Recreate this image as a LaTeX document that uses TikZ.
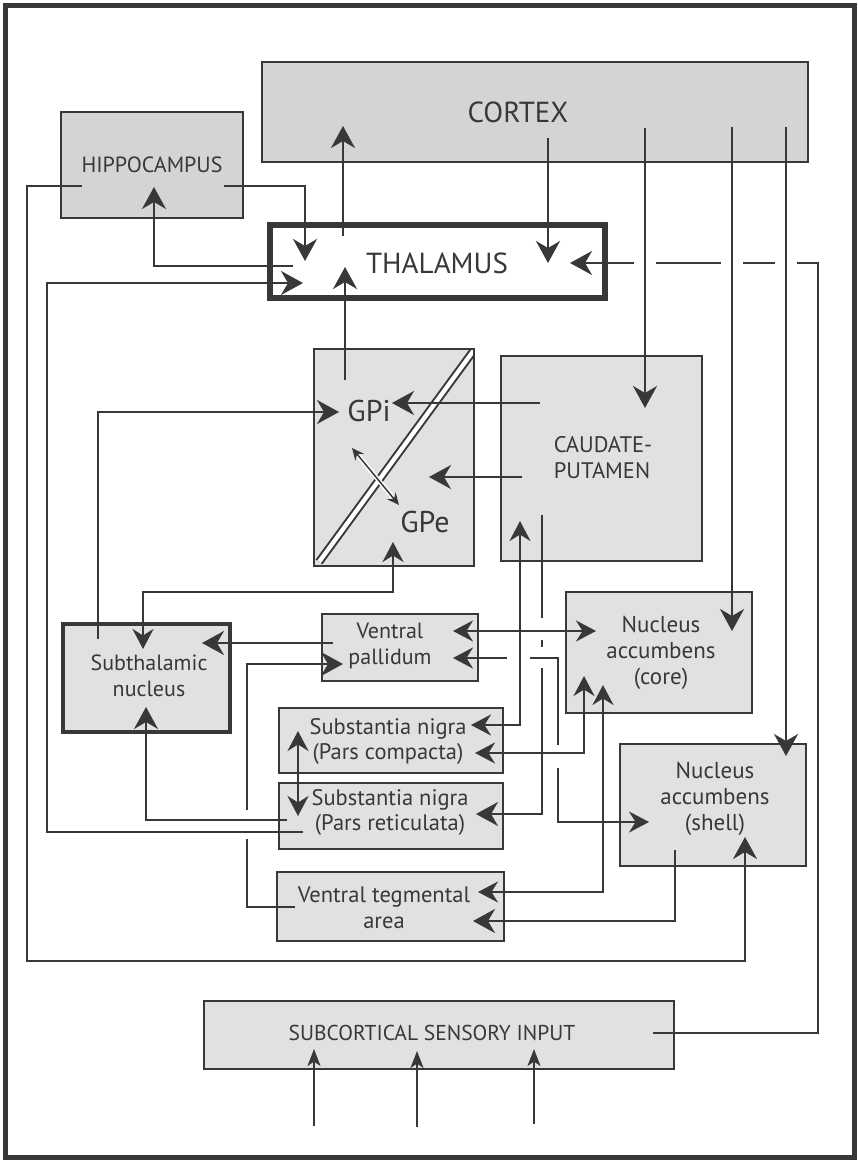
\documentclass[tikz,border=0pt]{standalone}
\usepackage{fontspec}
\setmainfont{PT Sans}
\usetikzlibrary{arrows.meta,calc}
\definecolor{lc}{HTML}{383838}
\definecolor{fillA}{HTML}{D4D4D4}
\definecolor{fillB}{HTML}{E1E1E1}
\tikzset{
  box/.style={draw=lc, line width=2.5pt, fill=fillB, inner sep=0pt, outer sep=0pt, anchor=north west},
  boxD/.style={box, fill=fillA},
  conn/.style={draw=lc, line width=2.3pt},
  arr/.style={conn, -{Stealth[length=22pt,width=24pt,inset=7pt]}},
  darr/.style={conn, {Stealth[length=20pt,width=21pt,inset=6.5pt]}-{Stealth[length=20pt,width=21pt,inset=6.5pt]}},
  sarr/.style={conn, -{Stealth[length=17pt,width=13pt,inset=4.5pt]}},
  gapw/.style={draw=white, line width=6pt},
  lbl/.style={text=lc, align=center, inner sep=0pt},
  big/.style={font=\fontsize{29}{33}\selectfont},
  caps/.style={font=\fontsize{22}{26}\selectfont},
  mixed/.style={font=\fontsize{22}{26}\selectfont},
}
\begin{document}
\begin{tikzpicture}[x=1pt,y=-1pt]
\useasboundingbox (0,0) rectangle (858,1161);
\draw[lc, line width=5pt] (5.5,5.5) rectangle (854.5,1157.5);

% boxes
\node[boxD, minimum width=546pt, minimum height=100pt] (cortex) at (262,62) {};
\node[boxD, minimum width=182pt, minimum height=106pt] (hippo) at (61,112) {};
\node[box, fill=white, line width=6pt, minimum width=335pt, minimum height=73pt] (thal) at (270,225) {};
\node[box, minimum width=160pt, minimum height=217pt] (gp) at (314,349) {};
\node[box, minimum width=201pt, minimum height=205pt] (caud) at (501,356) {};
\node[box, line width=4pt, minimum width=167pt, minimum height=108pt] (stn) at (63,624) {};
\node[box, minimum width=156pt, minimum height=67pt] (vp) at (322,614) {};
\node[box, minimum width=224pt, minimum height=65pt] (snc) at (279,708) {};
\node[box, minimum width=224pt, minimum height=66pt] (snr) at (279,783) {};
\node[box, minimum width=227pt, minimum height=69pt] (vta) at (277,872) {};
\node[box, minimum width=186pt, minimum height=121pt] (core) at (566,592) {};
\node[box, minimum width=186pt, minimum height=122pt] (shell) at (620,744) {};
\node[box, minimum width=470pt, minimum height=68pt] (sub) at (204,1001) {};

% GP divider (double line, clipped to the GP box)
\begin{scope}
  \clip (gp.south west) rectangle (gp.north east);
  \draw[lc, line width=2pt, double=white, double distance=4.3pt] ($(gp.south west)+(5,-4)$) -- ($(gp.north east)+(0,1)$) -- +(9,-12);
\end{scope}
\draw[lc, line width=2.5pt] (gp.south west) rectangle (gp.north east);

% texts
\node[lbl, big] (ctxT) at (518,112) {CORTEX};
\node[lbl, caps] (hipT) at (152,165) {HIPPOCAMPUS};
\node[lbl, big] (thalT) at (437,263) {THALAMUS};
\node[lbl, font=\fontsize{30}{34}\selectfont] (gpiT) at (369,411) {GPi};
\node[lbl, font=\fontsize{30}{34}\selectfont] (gpeT) at (425,522) {GPe};
\node[lbl, align=left, font=\fontsize{22.5}{26}\selectfont] (caudT) at (603,458) {CAUDATE-\\PUTAMEN};
\node[lbl, mixed] (stnT) at (149,676) {Subthalamic\\nucleus};
\node[lbl, mixed] (vpT) at (390,646) {Ventral\\pallidum};
\node[lbl, font=\fontsize{22.5}{25}\selectfont] (sncT) at (388,741) {Substantia nigra\\(Pars compacta)};
\node[lbl, font=\fontsize{22.5}{25}\selectfont] (snrT) at (390,812) {Substantia nigra\\(Pars reticulata)};
\node[lbl, font=\fontsize{22.5}{26}\selectfont] (vtaT) at (384,908) {Ventral tegmental\\area};
\node[lbl, font=\fontsize{23}{26}\selectfont] (coreT) at (661,653) {Nucleus\\accumbens\\(core)};
\node[lbl, font=\fontsize{23}{26}\selectfont] (shellT) at (715,799) {Nucleus\\accumbens\\(shell)};
\node[lbl, font=\fontsize{21.5}{25}\selectfont] (subT) at (432,1033) {SUBCORTICAL SENSORY INPUT};

% connector end points
\coordinate (hipR) at (224,186);   \coordinate (thalHin) at (305,261);
\coordinate (thalHout) at (293,266); \coordinate (hipIn) at (154,187);
\coordinate (snrT1) at (303,832); \coordinate (lx1) at (47,283); \coordinate (thalL) at (303,283);
\coordinate (hipL) at (82,186); \coordinate (lx2) at (27,961); \coordinate (shellIn2) at (745,837);
\coordinate (subR) at (653,1033); \coordinate (rx1) at (818,263); \coordinate (thalR) at (570,263);
\coordinate (ctxA) at (548,138); \coordinate (thalC) at (548,263);
\coordinate (thalU) at (343,236); \coordinate (ctxIn) at (343,126);
\coordinate (gpU) at (345,380); \coordinate (thalIn2) at (345,267);
\coordinate (ctxB) at (645,128); \coordinate (caudIn) at (645,408);
\coordinate (ctxC) at (732,127); \coordinate (coreIn) at (732,631);
\coordinate (ctxD) at (786,127); \coordinate (shellIn) at (786,756);
\coordinate (stnU) at (98,639); \coordinate (gpiIn) at (339,412);
\coordinate (gpiD) at (352,448); \coordinate (gpeU) at (399,505);
\coordinate (caudA) at (540,403); \coordinate (gpiR) at (392,403);
\coordinate (caudB) at (522,477); \coordinate (gpeR) at (429,477);
\coordinate (gpeIn) at (393,542); \coordinate (c16) at (143,592); \coordinate (stnIn) at (143,649);
\coordinate (vpL) at (333,643); \coordinate (stnR) at (202,643);
\coordinate (vtaL) at (295,907); \coordinate (c18) at (247,664); \coordinate (vpIn) at (343,664);
\coordinate (snrL) at (287,820); \coordinate (stnD) at (146,707);
\coordinate (sncD) at (298,731); \coordinate (snrU) at (298,816);
\coordinate (vpR1) at (453,631); \coordinate (coreL) at (596,631);
\coordinate (vpR2) at (453,658); \coordinate (c22) at (558,822); \coordinate (shellL) at (649,822);
\coordinate (caudD) at (520,521); \coordinate (sncR1) at (471,725);
\coordinate (caudE) at (542,515); \coordinate (snrR) at (476,814);
\coordinate (coreD1) at (584,676); \coordinate (sncR2) at (475,753);
\coordinate (coreD2) at (603,685); \coordinate (vtaR1) at (478,892);
\coordinate (shellD) at (675,850); \coordinate (vtaR2) at (473,921);
\coordinate (in1) at (314,1126); \coordinate (subIn1) at (314,1049);
\coordinate (in2) at (417,1127); \coordinate (subIn2) at (417,1051);
\coordinate (in3) at (534,1124); \coordinate (subIn3) at (534,1049);

% connectors with jumps, drawn first
\draw[arr] (subR) -| (rx1) -- (thalR);
\draw[gapw] (634,263) -- (656,263) (721,263) -- (743,263) (775,263) -- (797,263);
\draw[arr] (vtaL) -| (c18) -- (vpIn);
\draw[gapw] (247,810) -- (247,839);
\draw[arr] (caudE) |- (snrR);
\draw[gapw] (542,618) -- (542,640) (542,647) -- (542,668);
\draw[darr] (vpR2) -| (c22) -- (shellL);
\draw[gapw] (507,658) -- (530,658) (558,745) -- (558,768);

% other connectors
\draw[arr] (hipR) -| (thalHin);
\draw[arr] (thalHout) -| (hipIn);
\draw[arr] (snrT1) -| (lx1) -- (thalL);
\draw[arr] (hipL) -| (lx2) -| (shellIn2);
\draw[arr] (ctxA) -- (thalC);
\draw[arr] (thalU) -- (ctxIn);
\draw[arr] (gpU) -- (thalIn2);
\draw[arr] (ctxB) -- (caudIn);
\draw[arr] (ctxC) -- (coreIn);
\draw[arr] (ctxD) -- (shellIn);
\draw[arr] (stnU) |- (gpiIn);
\draw[conn, line width=1.5pt, {Stealth[length=12pt,width=11pt,inset=4pt]}-{Stealth[length=12pt,width=11pt,inset=4pt]},
      preaction={draw=white, line width=4.5pt}] (gpiD) -- (gpeU);
\draw[arr] (caudA) -- (gpiR);
\draw[arr] (caudB) -- (gpeR);
\draw[darr] (gpeIn) |- (c16) -- (stnIn);
\draw[arr] (vpL) -- (stnR);
\draw[arr] (snrL) -| (stnD);
\draw[darr] (sncD) -- (snrU);
\draw[darr] (vpR1) -- (coreL);
\draw[darr] (caudD) |- (sncR1);
\draw[darr] (coreD1) |- (sncR2);
\draw[darr] (coreD2) |- (vtaR1);
\draw[arr] (shellD) |- (vtaR2);
\draw[sarr] (in1) -- (subIn1);
\draw[sarr] (in2) -- (subIn2);
\draw[sarr] (in3) -- (subIn3);
\end{tikzpicture}
\end{document}
